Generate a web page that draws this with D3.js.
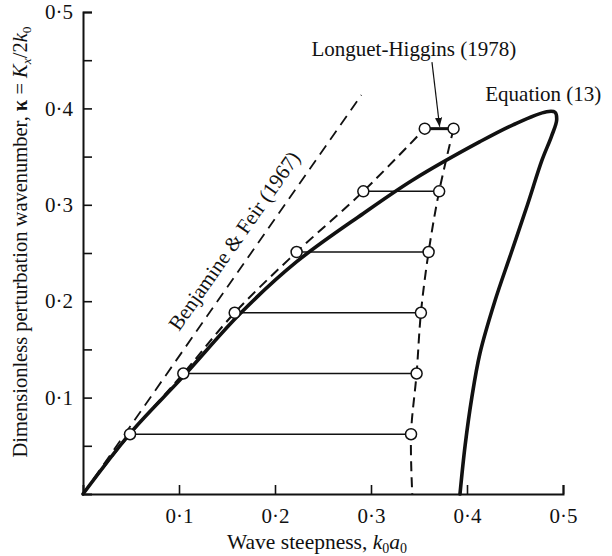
<!DOCTYPE html>
<html>
<head>
<meta charset="utf-8">
<script src="https://cdn.jsdelivr.net/npm/d3@7"></script>
<style>
  body { margin: 0; background: #fff; }
  text { font-family: "Liberation Serif", "DejaVu Serif", serif; fill: #111; }
</style>
</head>
<body>
<svg id="chart" width="612" height="556"></svg>
<script>
// axis ticks
var xTicks = [0.1, 0.2, 0.3, 0.4, 0.5];
var yTicks = [0.05, 0.1, 0.15, 0.2, 0.25, 0.3, 0.35, 0.4, 0.45, 0.5];
var yLabelled = [0.1, 0.2, 0.3, 0.4, 0.5];

// Equation (13): wave steepness vs perturbation wavenumber
var eqAk = [0, 0.05, 0.1045, 0.1635, 0.2226, 0.292, 0.344, 0.4135, 0.448, 0.483, 0.4917, 0.4934, 0.488, 0.478, 0.463, 0.446, 0.429, 0.4135, 0.405, 0.398, 0.3927];
var eqK  = [0, 0.064, 0.122, 0.187, 0.241, 0.291, 0.326, 0.3655, 0.383, 0.3966, 0.396, 0.388, 0.371, 0.346, 0.30, 0.25, 0.20, 0.146, 0.10, 0.05, 0];

// Longuet-Higgins (1978) circles
var lhK     = [0.062, 0.125, 0.188, 0.251, 0.314, 0.379];
var lhLeft  = [0.049, 0.1045, 0.158, 0.2225, 0.292, 0.356];
var lhRight = [0.3417, 0.3475, 0.352, 0.360, 0.371, 0.386];
var lhFoot  = 0.343;

// Benjamin & Feir (1967) straight line
var bfAk = [0, 0.29];
var bfK  = [0, 0.414];

var svg = d3.select("#chart");
var x = d3.scaleLinear().domain([0, 0.5]).range([83, 563]);
var y = d3.scaleLinear().domain([0, 0.5]).range([494, 12]);

function fmt(v) { return d3.format(".1f")(v).replace(".", "\u00b7"); }

// axes
var gx = svg.append("g").attr("transform", "translate(0," + y(0) + ")")
  .call(d3.axisBottom(x).tickValues(xTicks).tickSize(-9).tickFormat(fmt).tickPadding(14));
var gy = svg.append("g").attr("transform", "translate(" + x(0) + ",0)")
  .call(d3.axisLeft(y).tickValues(yTicks).tickSize(-9)
    .tickFormat(function(d) { return yLabelled.indexOf(d) >= 0 ? fmt(d) : ""; }).tickPadding(20));
[gx, gy].forEach(function(g) {
  g.select(".domain").attr("stroke", "#111").attr("stroke-width", 2);
  g.selectAll(".tick line").attr("stroke", "#111").attr("stroke-width", 1.6);
  g.selectAll(".tick text").style("font-family", "Liberation Serif").style("font-size", "21px").attr("fill", "#111");
});
gy.selectAll(".tick text").attr("dx", "10");

var line = d3.line().x(function(d) { return x(d[0]); }).y(function(d) { return y(d[1]); });

// Benjamin & Feir
svg.append("path")
  .attr("d", line(d3.zip(bfAk, bfK)))
  .attr("fill", "none").attr("stroke", "#111").attr("stroke-width", 1.8)
  .attr("stroke-dasharray", "11,7");

// horizontal connectors
lhK.forEach(function(k, i) {
  svg.append("line")
    .attr("x1", x(lhLeft[i])).attr("x2", x(lhRight[i]))
    .attr("y1", y(k)).attr("y2", y(k))
    .attr("stroke", "#111").attr("stroke-width", i == lhK.length - 1 ? 3 : 1.6);
});

// Longuet-Higgins dashed branches
var curve = d3.line().curve(d3.curveCatmullRom)
  .x(function(d) { return x(d[0]); }).y(function(d) { return y(d[1]); });
var leftBranch = [[0, 0]].concat(d3.zip(lhLeft, lhK));
var rightBranch = d3.zip(lhRight, lhK).reverse().concat([[lhFoot, 0]]);
[leftBranch, rightBranch].forEach(function(b) {
  svg.append("path").attr("d", curve(b))
    .attr("fill", "none").attr("stroke", "#111").attr("stroke-width", 2)
    .attr("stroke-dasharray", "10,6");
});

// Equation (13)
svg.append("path")
  .attr("d", curve(d3.zip(eqAk, eqK)))
  .attr("fill", "none").attr("stroke", "#111").attr("stroke-width", 3.6)
  .attr("stroke-linejoin", "round").attr("stroke-linecap", "round");

// circles
var pts = d3.zip(lhLeft, lhK).concat(d3.zip(lhRight, lhK));
svg.selectAll("circle.lh").data(pts).enter().append("circle")
  .attr("cx", function(d) { return x(d[0]); })
  .attr("cy", function(d) { return y(d[1]); })
  .attr("r", 5.5).attr("fill", "#fff").attr("stroke", "#111").attr("stroke-width", 1.5);

// arrow to top pair
svg.append("defs").append("marker").attr("id", "ah")
  .attr("viewBox", "0 0 10 10").attr("refX", 10).attr("refY", 5)
  .attr("markerWidth", 9).attr("markerHeight", 9).attr("markerUnits", "userSpaceOnUse")
  .attr("orient", "auto")
  .append("path").attr("d", "M0,1L10,5L0,9Z").attr("fill", "#111");
svg.append("line")
  .attr("x1", x(0.3635)).attr("y1", y(0.448))
  .attr("x2", x(0.3715)).attr("y2", y(0.381))
  .attr("stroke", "#111").attr("stroke-width", 1.2).attr("marker-end", "url(#ah)");

// labels
svg.append("text").attr("x", x(0.238)).attr("y", y(0.454))
  .style("font-size", "21px").text("Longuet-Higgins (1978)");
svg.append("text").attr("x", x(0.419)).attr("y", y(0.408))
  .style("font-size", "21px").text("Equation (13)");
svg.append("text")
  .attr("transform", "translate(" + x(0.1) + "," + y(0.168) + ") rotate(-55)")
  .style("font-size", "21px").text("Benjamine & Feir (1967)");

// x title
var xt = svg.append("text").attr("x", 317).attr("y", 549).attr("text-anchor", "middle")
  .style("font-size", "21.5px");
xt.append("tspan").text("Wave steepness, ");
xt.append("tspan").style("font-style", "italic").text("k");
xt.append("tspan").attr("dy", 4).style("font-size", "14px").text("0");
xt.append("tspan").attr("dy", -4).style("font-style", "italic").text("a");
xt.append("tspan").attr("dy", 4).style("font-size", "14px").text("0");

// y title
var yt = svg.append("text").attr("transform", "translate(27,242) rotate(-90)")
  .attr("text-anchor", "middle").style("font-size", "20.5px");
yt.append("tspan").text("Dimensionless perturbation wavenumber, ");
yt.append("tspan").style("font-weight", "bold").text("\u03ba");
yt.append("tspan").text(" = ");
yt.append("tspan").style("font-style", "italic").text("K");
yt.append("tspan").attr("dy", 4).style("font-size", "13.5px").style("font-style", "italic").text("x");
yt.append("tspan").attr("dy", -4).text("/2");
yt.append("tspan").style("font-style", "italic").text("k");
yt.append("tspan").attr("dy", 4).style("font-size", "13.5px").text("0");
</script>
</body>
</html>
